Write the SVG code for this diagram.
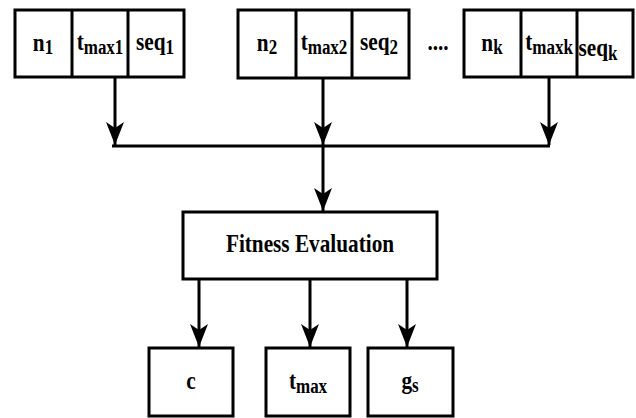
<svg xmlns="http://www.w3.org/2000/svg" width="636" height="418" viewBox="0 0 636 418">
  <style>
    .box { fill: #ffffff; stroke: #000000; stroke-width: 3; }
    .div { stroke: #000000; stroke-width: 3; fill: none; }
    .wire { stroke: #000000; stroke-width: 3; fill: none; }
    .lbl { font-family: "Liberation Serif", "Times New Roman", serif; font-weight: bold; font-size: 25px; fill: #000000; text-anchor: middle; }
    .sub { font-size: 20px; }
  </style>
  <defs>
    <!-- stealth-style arrowhead, drawn along +x and rotated to the line -->
    <marker id="arrow" markerUnits="userSpaceOnUse" markerWidth="24" markerHeight="18" viewBox="0 0 24 18" refX="23" refY="9" orient="auto">
      <path d="M0,0 L23,9 L0,18 L6,9 Z" fill="#000000"/>
    </marker>
  </defs>

  <!-- chromosome 1 -->
  <g id="chrom1">
    <rect class="box" x="15" y="10" width="169" height="67"/>
    <line class="div" x1="72" y1="10" x2="72" y2="77"/>
    <line class="div" x1="128" y1="10" x2="128" y2="77"/>
    <text class="lbl" transform="translate(43,51) scale(0.85,1)">n<tspan class="sub" dy="3">1</tspan></text>
    <text class="lbl" transform="translate(100,50) scale(0.85,1)">t<tspan class="sub" dy="4">max1</tspan></text>
    <text class="lbl" transform="translate(155,50) scale(0.85,1)">seq<tspan class="sub" dy="4">1</tspan></text>
  </g>

  <!-- chromosome 2 -->
  <g id="chrom2">
    <rect class="box" x="238" y="10" width="171" height="68"/>
    <line class="div" x1="296" y1="10" x2="296" y2="78"/>
    <line class="div" x1="352" y1="10" x2="352" y2="78"/>
    <text class="lbl" transform="translate(267,51) scale(0.85,1)">n<tspan class="sub" dy="3">2</tspan></text>
    <text class="lbl" transform="translate(324,50) scale(0.85,1)">t<tspan class="sub" dy="4">max2</tspan></text>
    <text class="lbl" transform="translate(379,50) scale(0.85,1)">seq<tspan class="sub" dy="4">2</tspan></text>
  </g>

  <text id="ellipsis" class="lbl" transform="translate(438,50) scale(0.85,1)">....</text>

  <!-- chromosome k -->
  <g id="chromk">
    <rect class="box" x="464" y="10" width="169" height="67"/>
    <line class="div" x1="521" y1="10" x2="521" y2="77"/>
    <line class="div" x1="577" y1="10" x2="577" y2="77"/>
    <text class="lbl" transform="translate(492,51) scale(0.85,1)">n<tspan class="sub" dy="3">k</tspan></text>
    <text class="lbl" transform="translate(549,50) scale(0.85,1)">t<tspan class="sub" dy="4">maxk</tspan></text>
    <text class="lbl" transform="translate(598,56) scale(0.85,1)">seq<tspan class="sub" dy="4">k</tspan></text>
  </g>

  <!-- fitness evaluation -->
  <g id="fitness">
    <rect class="box" x="183" y="212" width="254" height="67"/>
    <text class="lbl" transform="translate(310,252) scale(0.85,1)">Fitness Evaluation</text>
  </g>

  <!-- outputs -->
  <g id="out-c">
    <rect class="box" x="149" y="348" width="84" height="68"/>
    <text class="lbl" transform="translate(191,389) scale(0.85,1)">c</text>
  </g>
  <g id="out-tmax">
    <rect class="box" x="266" y="348" width="84" height="68"/>
    <text class="lbl" transform="translate(308,389) scale(0.85,1)">t<tspan class="sub" dy="4">max</tspan></text>
  </g>
  <g id="out-gs">
    <rect class="box" x="368" y="348" width="85" height="68"/>
    <text class="lbl" transform="translate(410,389) scale(0.85,1)">g<tspan class="sub" dy="3">s</tspan></text>
  </g>

  <!-- connectors -->
  <g id="connectors">
    <line class="wire" x1="115" y1="78" x2="115" y2="145" marker-end="url(#arrow)"/>
    <line class="wire" x1="323" y1="79" x2="323" y2="145" marker-end="url(#arrow)"/>
    <line class="wire" x1="549" y1="78" x2="549" y2="145" marker-end="url(#arrow)"/>
    <line class="wire" x1="112" y1="146" x2="550" y2="146"/>
    <line class="wire" x1="323" y1="146" x2="323" y2="211" marker-end="url(#arrow)"/>
    <line class="wire" x1="199" y1="280" x2="199" y2="347" marker-end="url(#arrow)"/>
    <line class="wire" x1="310" y1="280" x2="310" y2="347" marker-end="url(#arrow)"/>
    <line class="wire" x1="407" y1="280" x2="407" y2="347" marker-end="url(#arrow)"/>
  </g>
</svg>
